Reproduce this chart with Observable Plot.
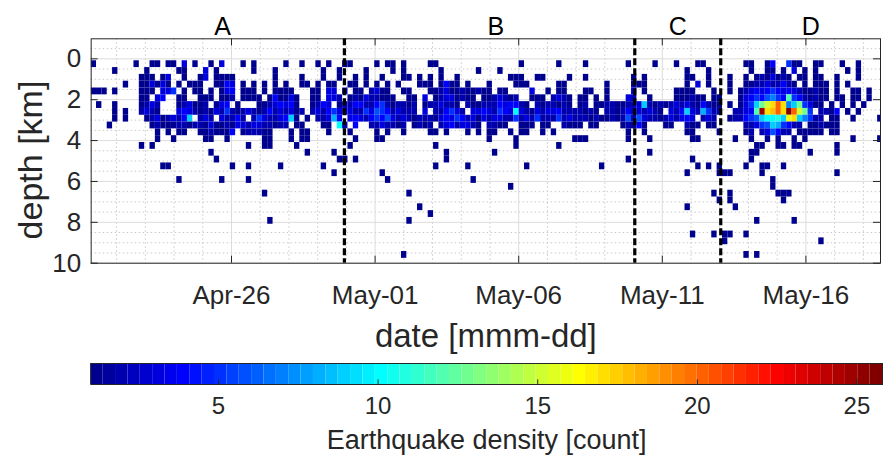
<!DOCTYPE html>
<html><head><meta charset="utf-8">
<script src="https://cdn.jsdelivr.net/npm/d3@7"></script>
<script src="https://cdn.jsdelivr.net/npm/@observablehq/plot@0.6"></script>
<style>
html,body{margin:0;padding:0;background:#fff;}
#chart{width:883px;height:461px;overflow:hidden;}
#chart svg{display:block;}
</style></head><body><div id="chart"></div>
<script>
// ---------- data ----------
const binOrigin = "2015-04-21T02:44:00Z";   // left edge of first time bin
const binDays = 0.18628;                    // time-bin width (days)
const depthOrigin = 0.095;                  // top edge of first depth bin (km)
const depthStep = 1 / 3;                    // depth-bin height (km)
// one string per depth bin: "col" (count 1) or "col:count"
const countRows = [
  "0 8 11 12 14 15 17:3 19 22 24:3 28 30 36 39 42 44 47 48 53 55 56 58 63 64 80 87 92 100 105 109 113 114 122 123 126 127:4 130:5 131 132 135 136 140 143",
  "4 10 16 17 21:3 23 30 34 43 46 51 56 58 65 72 76 111 115 123 126 127 129 131:3 133 135 141 143",
  "9 10 11 13 14:3 17 20 21:3 23 24 25 26 34 39 43 46 49 51 54 58 59 61 63 65 68 78 79 80 83 84 89 92 101 103 111 112 115 119 122 124 125:2 126 127:3 128 129:2 130 132 133 135 136 139 143",
  "6 9 10 11:3 12 13:3 14 16 18 19 20 23 24 25:4 26:3 28 30 32 34 36 39 40 42 44 45 48 49 51 53 55 57 61 62 63 65 66:4 67 68 70 74 79 80 81 87 88 96 101 102 103 111 113:3 115 119 122 123 124:2 125:2 126:3 127:2 128:2 129:4 130:2 131 133 135 136 137 139 141",
  "0 1 2 4 9 10 11 13:3 14:3 15:5 17 19 20 22 24 25:3 26:4 28 29 30 32 34 35 36 37 41 42 44:3 45:3 47:2 49 50 52:2 53:3 54 55 58 59 63 64 65:2 66:3 67 68 69:2 70 71 72:2 73 74 76 77 82:3 85 87 88 92 93 96 101:3 103 109 110 111 112 116 119 121 122:2 123:3 124:4 125:3 126:4 127:5 128:4 129:3 130:4 131:3 132:2 133 134 135:2 136 137 139 142 143 145",
  "9 10 12:3 13:4 16 17 20 21 22 24 25 26:2 28 29 30 31 33 34:4 35 36 37:3 38 41 42 44:3 45:3 46:2 48 49:2 50 51:3 52:2 53:2 54 55 56 59 60 62:3 64 65:2 66:3 67:3 68 69:2 70 71 73 74 75:2 76:3 77:2 78 79:2 82 83 84 86:2 87:3 88:2 89 91 92 94 96 100:3 101:2 104 109 110 111 112:2 113 114 116 117 121 122:3 123:4 124:5 125:4 126:6 127:7 128:5 129:4 130:12 131:5 132:4 133:2 134 135:2 136 137 139 140 142 143 145",
  "1 4 9 10:2 11:3 12:2 16 17:2 18:3 19 20 21:2 23 24:3 25:4 27 31 32 33:2 34:3 35:4 36:3 37:4 38 41 42:2 43:4 44:3 46 47:2 48:2 49:4 50:4 51:2 52:2 53:4 54:5 55:2 56 57:2 58:2 59 60:2 62 63:2 64:2 65:3 66:2 67:2 68 70:2 71 72 73:2 74:2 75:2 76:4 77:3 78:4 79:4 80:2 81 83:2 84 85:2 86:2 87 88:2 89 91 92:2 94 95 96:2 97:2 98 99 100:2 101:2 102:3 103:9 104:2 105 106:2 107 108:2 109:3 110:2 111:3 112:2 113 114:4 115:2 116 117 119 121 122:3 123:5 124:9 125:13 126:15 127:17 128:20 129:17 130:7 131:9 132:13 133:5 134:3 135 136 138 140 142 144",
  "4 6 9:2 10:3 11:2 12 16:3 17:4 18:3 19:2 20 21:2 22 23:3 24:2 25:5 26:2 27 28:2 29:3 30:2 31 32:2 33:4 34:2 35:3 36:2 37:3 38 39:2 41:2 42:3 43:2 44:4 45:5 46:3 47:2 48:3 49:2 50:2 51:5 52:3 53:6 54:5 55:4 56:2 57:3 58:2 59:2 60:2 62:3 64:2 65:2 66:4 67:5 68:3 69:2 71:3 72:3 73:4 74:3 75:2 76:5 77:4 78:3 79:10 80:3 81:2 82 83:3 84:2 85:3 86:3 87:4 88:2 89:2 90:2 91:2 92 93:2 94 96:2 97:2 98 99:2 100:4 101:2 102:3 103:2 104:3 105:2 106 108:3 109:2 110:4 111:9 112:3 113:2 114:8 115:5 116:2 117:2 120:2 121:2 122:3 123:4 124:12 125:25 126:17 127:18 128:20 129:17 130:26 131:20 132:15 133:13 134:5 136:2 137:2 138 139:4 141 143",
  "4 6 10 11:2 12:3 13 14:2 15:3 16:2 17:4 18:9 20:2 21:3 22:2 24:3 25:2 26:2 27:4 28:2 30:2 31:5 32:3 33:2 34:2 35:3 36:4 37:9 38 40 42:2 43:2 44:3 45:8 46:4 48:3 49:4 50:3 51:2 52:4 53:5 54:4 55:6 56:3 57:2 58:3 59:2 60 61:2 62:2 63:2 64 65:3 66:4 67:3 68:5 69:4 70:2 71:3 72 73:3 74:2 75:3 76:3 77:2 78:2 79:5 80:2 81:3 82:2 83:5 84:2 85:2 86:2 87:5 88:2 89:3 90:2 91:2 92:2 93 94:2 95 96 97:2 98 99:2 100:6 101:2 102:6 103:3 104:2 105:2 106 107:2 108:3 109:2 110:3 111:4 112:3 114:2 115:3 116:2 119 120:2 121:2 122:4 123:5 124:6 125:9 126:10 127:10 128:11 129:9 130:16 131:17 132:9 133:7 134:5 135:2 136:2 138 139 142 147",
  "3 11 12:2 13 14 15 16:2 17:2 18 19:2 20:2 21 22:3 23 24 25:2 26 27:3 28:3 29:2 30:3 31:3 32:2 33:2 34 35:2 36:2 38 39 43 44 46:10 47:2 49:4 52:2 53:2 54:3 55:2 56:2 57 58:2 60 61:2 62 63:2 65:2 66:3 67:4 68:2 69:3 70:3 71:2 72 74:2 75:2 76 77 80 81 82 84 85 88:2 89 90 91 93 94 99 100:2 101 102:4 103 107 108 111:2 112 113 115 116 122:2 123:2 124:3 125:5 126:6 127:9 128:8 129:5 130:4 131:2 132:2 134 135 136:2 137 138 139",
  "12 14 16 17 20 21 22:2 23 24 25 26:4 28 29:2 30:2 31:2 32 33 37 39 40 44 48 53 55 58 63 64 66 70 72 74 75 78 80 81 84 86 100 103 111 112 117 122 123:2 125:2 126:3 127:6 128:4 129:2 130:2 132 133 134 135 136 138 139",
  "12 15 21 22 25 32 33 37 39 40 49 53 54 74 79 90 91 92 100 104 112 113 120 123 126 128 131 133 142 147",
  "9 11 29 32 33 38 48 64 79 87 124 125 128 129 131 132 139",
  "22 40 45 66 75 104 123 124 134 139",
  "23 46 47 49 66 100 112 123",
  "13 14 26 29 35 43 64 70 81 95 113 115 117 122 125 126 129",
  "45 54 111 117 118 119 125 139",
  "16 24 29 55 71 127",
  "78 127",
  "32 59 116 119 128 129 130",
  "117 119 129",
  "61 111 120",
  "63",
  "33 59 124 131",
  "",
  "112 116 118 119 122",
  "118 136",
  "",
  "58 122 124"
];
const xDomain = ["2015-04-21T02:44:00Z", "2015-05-18T14:20:00Z"];
const yDomain = [-0.98, 10];
const xTickDates = ["2015-04-26", "2015-05-01", "2015-05-06", "2015-05-11", "2015-05-16"];
const yTicks = [0, 2, 4, 6, 8, 10];
const yMinor = [-0.5, 0.5, 1, 1.5, 2.5, 3, 3.5, 4.5, 5, 5.5, 6.5, 7, 7.5, 8.5, 9, 9.5];
const xMinorDates = ["2015-04-22","2015-04-23","2015-04-24","2015-04-25","2015-04-27","2015-04-28","2015-04-29","2015-04-30","2015-05-02","2015-05-03","2015-05-04","2015-05-05","2015-05-07","2015-05-08","2015-05-09","2015-05-10","2015-05-12","2015-05-13","2015-05-14","2015-05-15","2015-05-17","2015-05-18"];
const dashDates = ["2015-04-29T22:20:00Z", "2015-05-10T01:00:00Z", "2015-05-13T00:50:00Z"];
const segmentLabels = ["A", "B", "C", "D"];
const segmentLabelDates = ["2015-04-25T16:30:00Z", "2015-05-05T04:50:00Z", "2015-05-11T13:00:00Z", "2015-05-16T04:00:00Z"];
const colorDomain = [1, 25.8];
const colorTicks = [5, 10, 15, 20, 25];
const colorLevels = 64;

// ---------- helpers ----------
const DAY = 864e5;
const toDate = s => new Date(s.length === 10 ? s + "T00:00:00Z" : s);
function jetIndex(j) {
  let r, g, b;
  if (j < 8) { r = 0; g = 0; b = 0.5625 + j * 0.0625; }
  else if (j < 24) { r = 0; g = (j - 7) / 16; b = 1; }
  else if (j < 40) { r = (j - 23) / 16; g = 1; b = 1 - (j - 23) / 16; }
  else if (j < 56) { r = 1; g = 1 - (j - 39) / 16; b = 0; }
  else { r = 1 - (j - 55) / 16; g = 0; b = 0; }
  return `rgb(${Math.round(r*255)},${Math.round(g*255)},${Math.round(b*255)})`;
}
const jetInterp = t => jetIndex(Math.max(0, Math.min(colorLevels - 1, Math.floor(t * colorLevels))));

const t0 = toDate(binOrigin).getTime();
const cells = [];
countRows.forEach((row, k) => {
  row.split(/\s+/).filter(Boolean).forEach(tok => {
    const [c, n] = tok.split(":");
    const ci = +c;
    cells.push({
      x1: new Date(t0 + ci * binDays * DAY),
      x2: new Date(t0 + (ci + 1) * binDays * DAY),
      y1: depthOrigin + k * depthStep,
      y2: depthOrigin + (k + 1) * depthStep,
      n: n ? +n : 1
    });
  });
});

const xD = xDomain.map(toDate);
const xTicksD = xTickDates.map(toDate);
const tickKm = 7 / 20.44;
const tickDays = 7 / 28.72;
const axisColor = "#262626";
const font = "'Liberation Sans', Arial, Helvetica, sans-serif";
const colorScale = {type: "linear", domain: colorDomain, interpolate: jetInterp, clamp: true};

const main = Plot.plot({
  width: 883, height: 355,
  marginLeft: 90.67, marginRight: 3, marginTop: 38.3, marginBottom: 92.3,
  style: {fontFamily: font, fontSize: "26px", color: axisColor, background: "#fff", overflow: "visible"},
  x: {type: "utc", domain: xD, ticks: xTicksD, tickFormat: d3.utcFormat("%b-%d"), tickSize: 0, tickPadding: 22, label: null},
  y: {domain: yDomain, reverse: true, ticks: yTicks, tickSize: 0, tickPadding: 10, label: null},
  color: colorScale,
  marks: [
    Plot.ruleX(xMinorDates.map(toDate), {stroke: "#c9c9c9", strokeDasharray: "1.5,2.5"}),
    Plot.ruleY(yMinor, {stroke: "#c9c9c9", strokeDasharray: "1.5,2.5"}),
    Plot.ruleX(xTicksD, {stroke: "#dcdcdc"}),
    Plot.ruleY(yTicks, {stroke: "#dcdcdc"}),
    Plot.rect(cells, {x1: "x1", x2: "x2", y1: "y1", y2: "y2", fill: "n", clip: true}),
    Plot.ruleX(dashDates.map(toDate), {stroke: "#000", strokeWidth: 3.2, strokeDasharray: "7,3"}),
    Plot.ruleX(xTicksD, {y1: () => yDomain[1], y2: () => yDomain[1] - tickKm, stroke: axisColor}),
    Plot.ruleX(xTicksD, {y1: () => yDomain[0], y2: () => yDomain[0] + tickKm, stroke: axisColor}),
    Plot.ruleY(yTicks, {x1: () => xD[0], x2: () => new Date(xD[0].getTime() + tickDays * DAY), stroke: axisColor}),
    Plot.ruleY(yTicks, {x1: () => xD[1], x2: () => new Date(xD[1].getTime() - tickDays * DAY), stroke: axisColor}),
    Plot.frame({stroke: axisColor}),
    Plot.text(segmentLabels, {x: (d, i) => toDate(segmentLabelDates[i]), frameAnchor: "top", lineAnchor: "middle", dy: -12, fontSize: 25, fill: "#000"}),
    Plot.text(["date [mmm-dd]"], {frameAnchor: "bottom", lineAnchor: "middle", dy: 73, fontSize: 33}),
    Plot.text(["depth [km]"], {frameAnchor: "left", textAnchor: "middle", lineAnchor: "middle", dx: -60, dy: 9, rotate: -90, fontSize: 34})
  ]
});

const bands = d3.range(colorLevels).map(i => {
  const w = (colorDomain[1] - colorDomain[0]) / colorLevels;
  return {a: colorDomain[0] + i * w, b: colorDomain[0] + (i + 1) * w, v: colorDomain[0] + (i + 0.5) * w};
});
const bar = Plot.plot({
  width: 883, height: 106,
  marginLeft: 90.3, marginRight: 1, marginTop: 8, marginBottom: 77,
  style: {fontFamily: font, fontSize: "24px", color: axisColor, background: "#fff", overflow: "visible"},
  x: {domain: colorDomain, ticks: colorTicks, tickSize: 0, tickPadding: 12, label: null},
  y: {domain: [0, 1], axis: null},
  color: colorScale,
  marks: [
    Plot.rect(bands, {x1: "a", x2: "b", y1: () => 0, y2: () => 1, fill: "v"}),
    Plot.ruleX(colorTicks, {y1: () => 0, y2: () => 0.22, stroke: axisColor}),
    Plot.frame({stroke: axisColor}),
    Plot.text(["Earthquake density [count]"], {frameAnchor: "bottom", lineAnchor: "middle", dy: 56, fontSize: 27})
  ]
});

const root = document.getElementById("chart");
root.appendChild(main);
root.appendChild(bar);
</script></body></html>
